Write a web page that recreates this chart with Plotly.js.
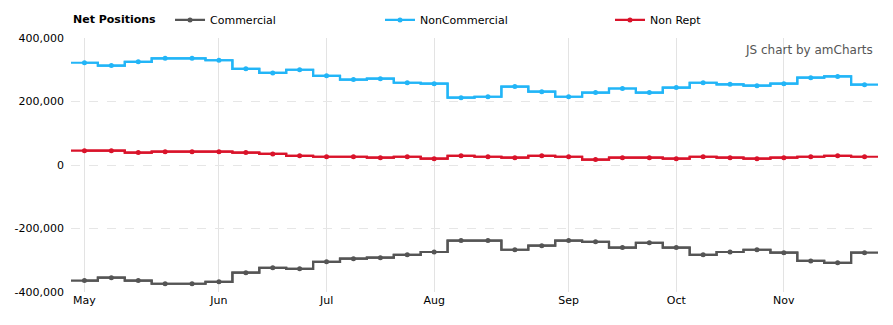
<!DOCTYPE html>
<html>
<head>
<meta charset="utf-8">
<script src="https://cdn.plot.ly/plotly-3.0.1.min.js"></script>
<style>html,body{margin:0;padding:0;background:#fff;}#chart{width:893px;height:325px;}</style>
</head>
<body>
<div id="chart"></div>
<script>
// Weekly report dates (index positions on the x axis)
var weeks = ["May 3","May 10","May 17","May 24","May 31","Jun 7","Jun 14","Jun 21","Jun 28",
  "Jul 5","Jul 12","Jul 19","Jul 26","Aug 2","Aug 9","Aug 16","Aug 23","Aug 30",
  "Sep 6","Sep 13","Sep 20","Sep 27","Oct 4","Oct 11","Oct 18","Oct 25",
  "Nov 1","Nov 8","Nov 15","Nov 22"];
var commercial = [-364000,-355000,-364000,-374000,-374000,-368000,-339000,-324000,-327000,
  -305000,-295000,-292000,-283000,-274000,-238000,-238000,-267000,-254000,
  -238000,-242000,-260000,-245000,-260000,-283000,-274000,-267000,
  -276000,-302000,-308000,-276000];
var nonCommercial = [322000,313000,325000,336000,336000,330000,303000,290000,300000,
  281000,269000,272000,259000,256000,212000,215000,247000,231000,
  215000,228000,241000,228000,244000,259000,254000,250000,
  256000,275000,279000,253000];
var nonRept = [45000,45000,39000,42000,42000,42000,39000,35000,29000,
  26000,26000,23000,26000,20000,29000,26000,23000,29000,
  26000,17000,23000,23000,20000,26000,23000,20000,
  23000,26000,29000,26000];
var monthTickIdx = [0,5,9,13,18,22,26];
var monthLabels = ["May","Jun","Jul","Aug","Sep","Oct","Nov"];
var yTickVals = [-400000,-200000,0,200000,400000];
var yTickText = ["-400,000","-200,000","0","200,000","400,000"];

var idx = weeks.map(function(_, i){ return i; });

function stepTrace(vals, color){
  var xs = [], ys = [];
  for (var i = 0; i < vals.length; i++){ xs.push(i - 0.5); ys.push(vals[i]); }
  xs.push(vals.length - 0.5); ys.push(vals[vals.length - 1]);
  return {x: xs, y: ys, type: 'scatter', mode: 'lines', line: {shape: 'hv', color: color, width: 2.2},
    showlegend: false, hoverinfo: 'skip'};
}
function pointTrace(vals, color, name, legend){
  return {x: idx, y: vals, type: 'scatter', mode: 'lines+markers', name: name, legend: legend,
    text: weeks, line: {shape: 'hvh', color: color, width: 2.2},
    marker: {size: 5, color: color}};
}

var cGray = '#555555', cBlue = '#22b5f7', cRed = '#d9132a';
var data = [
  stepTrace(commercial, cGray), stepTrace(nonCommercial, cBlue), stepTrace(nonRept, cRed),
  pointTrace(commercial, cGray, 'Commercial', 'legend'),
  pointTrace(nonCommercial, cBlue, 'NonCommercial', 'legend2'),
  pointTrace(nonRept, cRed, 'Non Rept', 'legend3')
];

var legFont = {family: 'DejaVu Sans, Verdana, sans-serif', size: 11, color: '#000'};
function leg(x){
  return {orientation: 'h', x: x, xanchor: 'left', y: 1.071, yanchor: 'middle',
    font: legFont, bgcolor: 'rgba(0,0,0,0)', borderwidth: 0};
}

var layout = {
  width: 893, height: 325,
  margin: {l: 71, r: 15, t: 38, b: 33, autoexpand: false},
  paper_bgcolor: '#fff', plot_bgcolor: '#fff',
  font: {family: 'DejaVu Sans, Verdana, sans-serif', size: 11, color: '#000'},
  xaxis: {range: [-0.5, 29.5], tickvals: monthTickIdx, ticktext: monthLabels,
    showgrid: true, gridcolor: '#e3e3e3', gridwidth: 1, zeroline: false, showline: false,
    ticks: '', tickfont: {size: 11, color: '#000'}, automargin: false},
  yaxis: {range: [-400000, 400000], tickvals: yTickVals, ticktext: yTickText,
    showgrid: true, gridcolor: '#e6e6e6', griddash: 'dash', gridwidth: 1,
    zeroline: false, showline: false, ticks: '', ticklabelstandoff: 6,
    tickfont: {size: 11, color: '#000'}, automargin: false},
  legend: leg(0.1227),
  legend2: leg(0.3829),
  legend3: leg(0.6679),
  annotations: [
    {text: '<b>Net Positions</b>', xref: 'paper', yref: 'paper', x: 0, y: 1.071,
      xanchor: 'left', yanchor: 'middle', showarrow: false,
      font: {family: 'DejaVu Sans, Verdana, sans-serif', size: 11, color: '#000'}},
    {text: 'JS chart by amCharts', xref: 'paper', yref: 'paper', x: 1, y: 0.953,
      xanchor: 'right', yanchor: 'middle', xshift: -3, showarrow: false,
      font: {family: 'DejaVu Sans, Verdana, sans-serif', size: 12, color: '#555'}}
  ],
  showlegend: true
};

Plotly.newPlot('chart', data, layout, {displayModeBar: false, staticPlot: true});
</script>
</body>
</html>
